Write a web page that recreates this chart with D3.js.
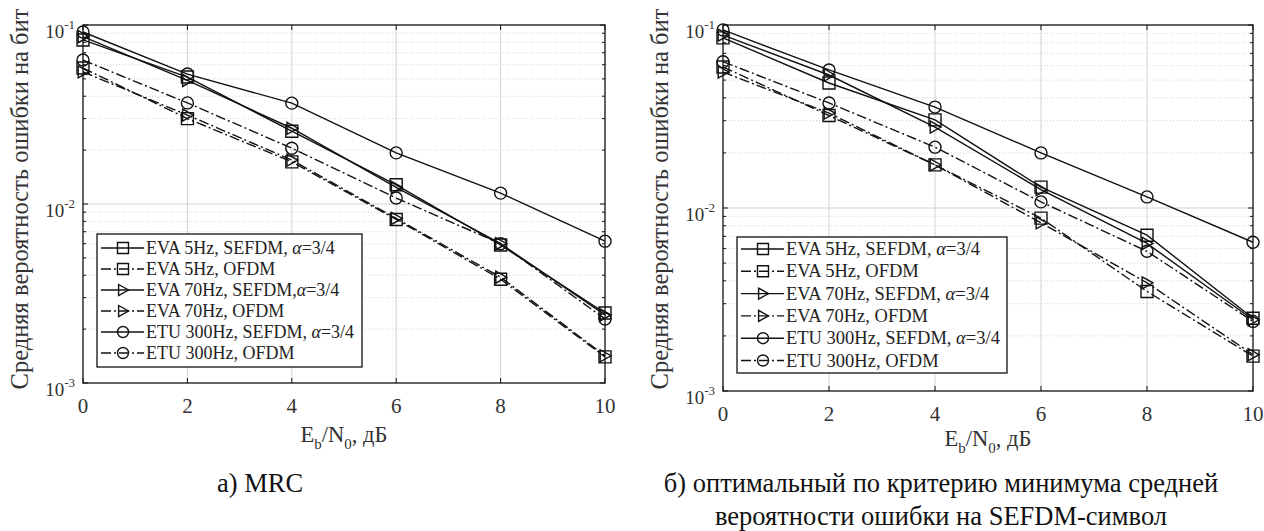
<!DOCTYPE html>
<html>
<head>
<meta charset="utf-8">
<script src="https://cdn.jsdelivr.net/npm/d3@7"></script>
<style>
  html, body { margin: 0; padding: 0; background: #fff; }
</style>
</head>
<body>
<svg id="chart" width="1264" height="531"></svg>
<script>
// Eb/N0 points, dB
const snr = [0, 2, 4, 6, 8, 10];

// (a) MRC combining — bit error rate
const mrcEva5Sefdm  = [0.0825, 0.0512, 0.0255, 0.0128, 0.0059, 0.00246];
const mrcEva5Ofdm   = [0.0575, 0.0300, 0.0172, 0.0082, 0.0038, 0.00140];
const mrcEva70Sefdm = [0.0860, 0.0490, 0.0265, 0.0124, 0.0060, 0.00240];
const mrcEva70Ofdm  = [0.0547, 0.0314, 0.0176, 0.0083, 0.0039, 0.00142];
const mrcEtuSefdm   = [0.0914, 0.0532, 0.0366, 0.0193, 0.0115, 0.0062];
const mrcEtuOfdm    = [0.0637, 0.0367, 0.0205, 0.0108, 0.0060, 0.00228];

// (b) optimal combining — bit error rate
const optEva5Sefdm  = [0.0850, 0.0482, 0.0303, 0.0130, 0.0071, 0.00250];
const optEva5Ofdm   = [0.0590, 0.0320, 0.0172, 0.0088, 0.0035, 0.00155];
const optEva70Sefdm = [0.0880, 0.0533, 0.0277, 0.0126, 0.0064, 0.00245];
const optEva70Ofdm  = [0.0553, 0.0330, 0.0172, 0.0083, 0.0039, 0.00158];
const optEtuSefdm   = [0.0940, 0.0568, 0.0356, 0.0200, 0.0115, 0.0065];
const optEtuOfdm    = [0.0630, 0.0375, 0.0215, 0.0108, 0.0058, 0.00240];

const legendLabelsA = [
  "EVA 5Hz, SEFDM, ",
  "EVA 5Hz, OFDM",
  "EVA 70Hz, SEFDM,",
  "EVA 70Hz, OFDM",
  "ETU 300Hz, SEFDM, ",
  "ETU 300Hz, OFDM"
];
const legendLabelsB = [
  "EVA 5Hz, SEFDM, ",
  "EVA 5Hz, OFDM",
  "EVA 70Hz, SEFDM, ",
  "EVA 70Hz, OFDM",
  "ETU 300Hz, SEFDM, ",
  "ETU 300Hz, OFDM"
];
const legendAlpha = [true, false, true, false, true, false];
const seriesMarkers = ["square", "square", "triangle", "triangle", "circle", "circle"];
const seriesDashed  = [false, true, false, true, false, true];

const xTicks = [0, 2, 4, 6, 8, 10];
const yTickExponents = [-1, -2, -3];
const yAxisTitle = "Средняя вероятность ошибки на бит";
const captionA = ["а) MRC"];
const captionB = ["б) оптимальный по критерию минимума средней", "вероятности ошибки на SEFDM-символ"];

const panels = [
  {
    series: [mrcEva5Sefdm, mrcEva5Ofdm, mrcEva70Sefdm, mrcEva70Ofdm, mrcEtuSefdm, mrcEtuOfdm],
    labels: legendLabelsA,
    box: { left: 83, right: 605, top: 25, bottom: 383 },
    legend: { x: 97, y: 234, w: 265, h: 133, row0: 248, step: 21, font: 18 },
    yTitleX: 28, xTitleDy: 59,
    caption: captionA, captionX: 260
  },
  {
    series: [optEva5Sefdm, optEva5Ofdm, optEva70Sefdm, optEva70Ofdm, optEtuSefdm, optEtuOfdm],
    labels: legendLabelsB,
    box: { left: 723, right: 1253, top: 25, bottom: 391 },
    legend: { x: 737, y: 237, w: 270, h: 136, row0: 249, step: 22.3, font: 18.5 },
    yTitleX: 668, xTitleDy: 55,
    caption: captionB, captionX: 941
  }
];

const FONT = "Liberation Serif";
const svg = d3.select("#chart").attr("font-family", FONT);
const ink = "#111";
const gridColor = "#d2d2d2";
const dashDot = "10,3,2,3";
const lw = 1.4;

function markerPath(kind, r) {
  if (kind === "square") return `M${-r},${-r}H${r}V${r}H${-r}Z`;
  if (kind === "triangle") return `M${-r * 0.8},${-r}L${r},0L${-r * 0.8},${r}Z`;
  return `M${r},0A${r},${r} 0 1,1 ${-r},0A${r},${r} 0 1,1 ${r},0Z`;
}

function txt(sel) {
  return sel.append("text").attr("font-family", FONT);
}

panels.forEach(p => {
  const b = p.box;
  const x = d3.scaleLinear().domain([0, 10]).range([b.left, b.right]);
  const y = d3.scaleLog().domain([1e-3, 1e-1]).range([b.bottom, b.top]);
  const g = svg.append("g");

  // grid: major vertical + horizontal, dotted minor for the log axis
  const minorVals = [];
  [1e-3, 1e-2].forEach(dec => { for (let k = 2; k <= 9; k++) minorVals.push(dec * k); });
  g.selectAll(".minor").data(minorVals).join("line")
    .attr("x1", b.left).attr("x2", b.right)
    .attr("y1", d => y(d)).attr("y2", d => y(d))
    .attr("stroke", gridColor).attr("stroke-width", 1).attr("stroke-dasharray", "1,2");
  g.selectAll(".vmajor").data([2, 4, 6, 8]).join("line")
    .attr("x1", d => x(d)).attr("x2", d => x(d))
    .attr("y1", b.top).attr("y2", b.bottom)
    .attr("stroke", gridColor).attr("stroke-width", 1);
  g.append("line")
    .attr("x1", b.left).attr("x2", b.right)
    .attr("y1", y(1e-2)).attr("y2", y(1e-2))
    .attr("stroke", gridColor).attr("stroke-width", 1);

  // inward ticks on all four sides
  const ticks = g.append("g").attr("stroke", ink).attr("stroke-width", 1);
  xTicks.forEach(t => {
    ticks.append("line").attr("x1", x(t)).attr("x2", x(t)).attr("y1", b.bottom).attr("y2", b.bottom - 5);
    ticks.append("line").attr("x1", x(t)).attr("x2", x(t)).attr("y1", b.top).attr("y2", b.top + 5);
  });
  yTickExponents.forEach(e => {
    const yy = y(Math.pow(10, e));
    ticks.append("line").attr("x1", b.left).attr("x2", b.left + 5).attr("y1", yy).attr("y2", yy);
    ticks.append("line").attr("x1", b.right).attr("x2", b.right - 5).attr("y1", yy).attr("y2", yy);
  });
  minorVals.forEach(v => {
    const yy = y(v);
    ticks.append("line").attr("x1", b.left).attr("x2", b.left + 3).attr("y1", yy).attr("y2", yy);
    ticks.append("line").attr("x1", b.right).attr("x2", b.right - 3).attr("y1", yy).attr("y2", yy);
  });

  // curves
  const line = d3.line().x((d, i) => x(snr[i])).y(d => y(d));
  p.series.forEach((vals, si) => {
    g.append("path").datum(vals)
      .attr("d", line)
      .attr("fill", "none").attr("stroke", ink).attr("stroke-width", lw)
      .attr("stroke-dasharray", seriesDashed[si] ? dashDot : null);
  });
  p.series.forEach((vals, si) => {
    g.selectAll(null).data(vals).join("path")
      .attr("transform", (d, i) => `translate(${x(snr[i])},${y(d)})`)
      .attr("d", markerPath(seriesMarkers[si], 6))
      .attr("fill", "none").attr("stroke", ink).attr("stroke-width", lw);
  });

  // axes frame
  g.append("rect")
    .attr("x", b.left).attr("y", b.top)
    .attr("width", b.right - b.left).attr("height", b.bottom - b.top)
    .attr("fill", "none").attr("stroke", ink).attr("stroke-width", 1.3);

  // x tick labels
  xTicks.forEach(t => {
    txt(g).attr("x", x(t)).attr("y", b.bottom + 30)
      .attr("text-anchor", "middle").attr("font-size", 21).attr("fill", "#333")
      .text(t);
  });

  // y tick labels as powers of ten
  yTickExponents.forEach(e => {
    const t = txt(g)
      .attr("x", b.left - 8).attr("y", y(Math.pow(10, e)) + 13)
      .attr("text-anchor", "end").attr("font-size", 19).attr("fill", "#333");
    t.append("tspan").text("10");
    t.append("tspan").attr("dy", -9).attr("font-size", 13).text(String(e));
  });

  // x axis title: Eb/N0, дБ
  const xt = txt(g)
    .attr("x", (b.left + b.right) / 2).attr("y", b.bottom + p.xTitleDy)
    .attr("text-anchor", "middle").attr("font-size", 22.5).attr("fill", "#333");
  xt.append("tspan").text("E");
  xt.append("tspan").attr("dy", 7).attr("font-size", 15).text("b");
  xt.append("tspan").attr("dy", -7).text("/N");
  xt.append("tspan").attr("dy", 7).attr("font-size", 15).text("0");
  xt.append("tspan").attr("dy", -7).text(", дБ");

  // y axis title
  txt(g)
    .attr("transform", `translate(${p.yTitleX},199) rotate(-90)`)
    .attr("text-anchor", "middle").attr("font-size", 24.5).attr("fill", "#333")
    .text(yAxisTitle);

  // legend
  const L = p.legend;
  const lg = g.append("g");
  lg.append("rect").attr("x", L.x).attr("y", L.y).attr("width", L.w).attr("height", L.h)
    .attr("fill", "#fff").attr("stroke", ink).attr("stroke-width", 1.3);
  p.labels.forEach((lab, i) => {
    const ly = L.row0 + i * L.step;
    lg.append("line").attr("x1", L.x + 4).attr("x2", L.x + 47).attr("y1", ly).attr("y2", ly)
      .attr("stroke", ink).attr("stroke-width", lw)
      .attr("stroke-dasharray", seriesDashed[i] ? dashDot : null);
    lg.append("path").attr("transform", `translate(${L.x + 26},${ly})`)
      .attr("d", markerPath(seriesMarkers[i], 5.5))
      .attr("fill", "none").attr("stroke", ink).attr("stroke-width", lw);
    const t = txt(lg).attr("x", L.x + 49).attr("y", ly + 6)
      .attr("font-size", L.font).attr("fill", "#222");
    t.append("tspan").text(lab);
    if (legendAlpha[i]) {
      t.append("tspan").attr("font-style", "italic").text("α");
      t.append("tspan").text("=3/4");
    }
  });

  // caption
  p.caption.forEach((line, i) => {
    txt(svg)
      .attr("x", p.captionX).attr("y", 492 + i * 33)
      .attr("text-anchor", "middle").attr("font-size", 26.5).attr("fill", "#111")
      .text(line);
  });
});
</script>
</body>
</html>
